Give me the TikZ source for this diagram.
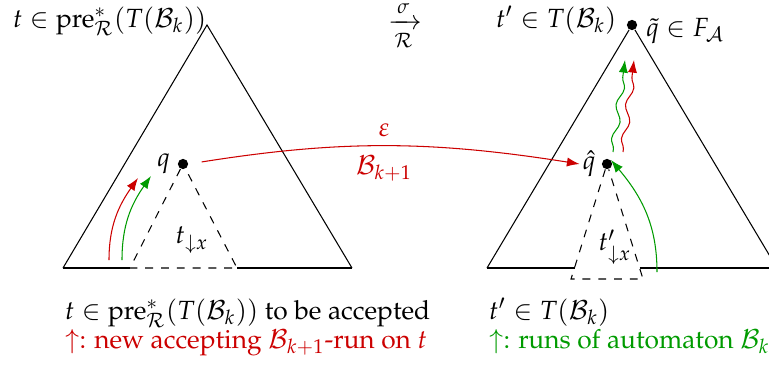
\documentclass[tikz,border=0pt]{standalone}
\usepackage[T1]{fontenc}
\usepackage{mathpazo}
\usepackage{amsmath,amssymb}
\usetikzlibrary{arrows.meta,decorations.pathmorphing,positioning}
\definecolor{runred}{RGB}{204,0,0}
\definecolor{rungreen}{RGB}{0,155,0}

\begin{document}
\begin{tikzpicture}[x=0.38pt, y=0.38pt,
    dot/.style={circle, fill=black, inner sep=0pt, minimum size=3.9pt},
    lbl/.style={inner sep=1pt},
    arr/.style={-{Latex[length=4.8pt, width=3.5pt]}},
    wave/.style={decorate, decoration={snake, amplitude=1.2pt,
        segment length=13pt, pre length=1pt, post length=4.5pt}}
]
    \useasboundingbox (0,0) rectangle (769,369);

    % === Left tree: t ===
    \node[dot] (q) at (183,205) {};
    \node[lbl, left=1.5pt of q] (qlbl) {$q$};
    \coordinate (la) at (207,344);
    \coordinate (lbl) at (63,101);
    \coordinate (lbr) at (352,101);
    \coordinate (qbl) at (130,101);
    \coordinate (qbr) at (237,101);
    \draw (lbl) -- (la) -- (lbr);
    \draw (lbl) -- (qbl) (qbr) -- (lbr);
    \draw[dashed] (q) -- (qbl) -- (qbr) -- (q);
    \node[lbl] (sub) at (192,129) {$t_{\downarrow x}$};

    % runs on t
    \coordinate (rs) at (109,109);
    \coordinate (re) at (138,191);
    \coordinate (gs) at (122,109);
    \coordinate (ge) at (151,193);
    \draw[arr, runred] (rs) to[out=90, in=-125] (re);
    \draw[arr, rungreen] (gs) to[out=90, in=-125] (ge);

    % === Right tree: t' ===
    \node[dot] (qt) at (632,344) {};
    \node[lbl, anchor=base west] (qtlbl) at (643,333) {$\tilde q \in F_{\mathcal A}$};
    \node[dot] (qh) at (607,205) {};
    \node[lbl, left=1pt of qh] (qhlbl) {$\hat q$};
    \coordinate (rbl) at (487,101);
    \coordinate (rbr) at (777,101);
    \coordinate (hbl) at (571,90);
    \coordinate (hbr) at (643,90);
    \draw (rbl) -- (qt) -- (rbr);
    \draw (rbl) -- (574.5,101) (639.5,101) -- (rbr);
    \draw[dashed] (qh) -- (hbl) -- (hbr) -- (qh);
    \node[lbl] (subp) at (615,122) {$t'_{\downarrow x}$};

    % runs of B_k
    \coordinate (ws) at (613,217);
    \coordinate (we) at (625,309);
    \coordinate (vs) at (623,217);
    \coordinate (ve) at (634,309);
    \draw[arr, rungreen, wave] (ws) -- (we);
    \draw[arr, runred, wave] (vs) -- (ve);
    \coordinate (bs) at (657,97);
    \draw[arr, rungreen] (bs) to[out=90, in=-50] (qh.north east);

    % epsilon transition
    \draw[arr, runred, shorten <=5pt] (q.east) to[bend left=9]
        node[above] {$\varepsilon$} node[below] {$\mathcal B_{k+1}$} (qhlbl.west);

    % === Captions ===
    \node[lbl, anchor=base west] (ttop) at (10,342) {$t \in \mathrm{pre}^*_{\mathcal R}(T(\mathcal B_k))$};
    \node[lbl] (step) at (405,343) {$\xrightarrow[\mathcal R]{\sigma}$};
    \node[lbl, anchor=base west] (tptop) at (493,342) {$t' \in T(\mathcal B_k)$};
    \node[lbl, anchor=base west] (tbot) at (62,50) {$t \in \mathrm{pre}^*_{\mathcal R}(T(\mathcal B_k))$ to be accepted};
    \node[lbl, anchor=base west, runred] (tnote) at (62,21) {$\uparrow$: new accepting $\mathcal B_{k+1}$-run on $t$};
    \node[lbl, anchor=base west] (tpbot) at (486,50) {$t' \in T(\mathcal B_k)$};
    \node[lbl, anchor=base west, rungreen] (tpnote) at (486,21) {$\uparrow$: runs of automaton $\mathcal B_k$};
\end{tikzpicture}
\end{document}
